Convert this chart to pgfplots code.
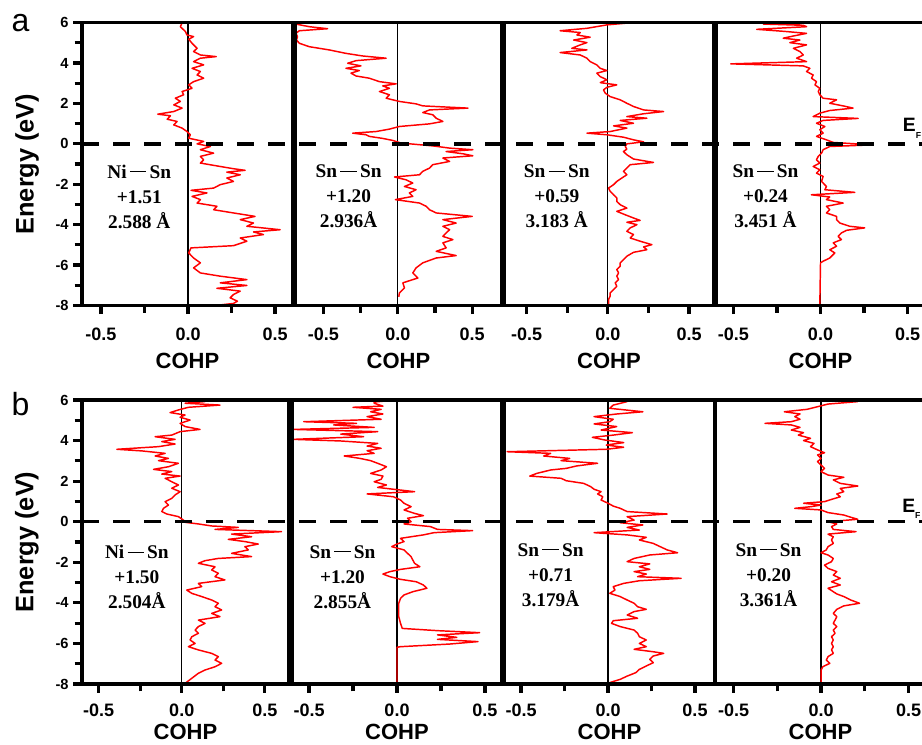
\documentclass[border=0pt]{standalone}
\usepackage{pgfplots}
\pgfplotsset{compat=1.18}
\usepackage{fontspec}
\setmainfont{Liberation Sans}
\newfontfamily\tnr{Liberation Serif}
\newcommand{\bd}{\,\rule[0.3em]{0.85em}{0.06em}\,}
\newcommand{\anno}{\tnr\bfseries\fontsize{14.5}{18.75}\selectfont}
\pgfplotsset{
  cohp/.style={
    scale only axis, anchor=south west, clip=false, axis on top,
    ymin=-8, ymax=6,
    axis line style={line width=2.7pt},
    /pgf/number format/assume math mode=true,
    xtick={-0.5,0,0.5}, minor xtick={-0.25,0.25},
    xtick pos=left,
    tick align=outside,
    major tick length=6.5pt, minor tick length=5.5pt,
    every tick/.style={line width=2.4pt, black},
    x tick label style={/pgf/number format/fixed,/pgf/number format/fixed zerofill,/pgf/number format/precision=1,
      font=\bfseries\fontsize{13.5}{14}\selectfont, yshift=-6.5pt},
    xlabel={COHP},
    xlabel style={font=\bfseries\fontsize{16.5}{18}\selectfont, at={(axis description cs:0.5,0)}, anchor=center, yshift=-41.5pt},
  },
  rowb/.style={xlabel style={yshift=5.5pt}, x tick label style={yshift=1.5pt}},
  first/.style={
    ytick={-8,-6,...,6}, minor ytick={-7,-5,...,5}, ytick pos=left,
    y tick label style={font=\bfseries\fontsize{11}{12}\selectfont},
    ylabel={Energy (eV)},
    ylabel style={font=\bfseries\fontsize{19}{20}\selectfont, at={(axis description cs:#1,0.5)}, anchor=center},
  },
  other/.style={ytick=\empty},
  curve/.style={red, line width=1.1pt, line join=round},
}
\begin{document}
\begin{tikzpicture}
% ---------------- row a ----------------
\begin{axis}[cohp, first=-0.26, at={(61.5pt,328.9pt)}, width=158.25pt, height=212.1pt, xmin=-0.609, xmax=0.603]
\draw[line width=0.9pt] (axis cs:0,-8) -- (axis cs:0,6);
\addplot[curve] coordinates {(-0.034,6.00) (-0.044,5.80) (-0.015,5.56) (-0.006,5.39) (0.032,5.31) (0.004,5.18) (0.023,4.98) (0.052,4.73) (0.032,4.57) (0.071,4.40) (0.162,4.32) (0.071,4.24) (0.032,4.07) (0.090,3.91) (0.023,3.74) (0.071,3.58) (0.052,3.41) (0.090,3.25) (0.032,3.08) (0.004,2.92) (0.023,2.75) (-0.034,2.59) (-0.025,2.43) (-0.073,2.26) (-0.044,2.10) (-0.082,1.93) (-0.034,1.77) (-0.082,1.60) (-0.174,1.47) (-0.101,1.39) (-0.120,1.22) (-0.063,1.11) (-0.082,0.94) (-0.034,0.78) (-0.006,0.61) (0.013,0.45) (0.004,0.28) (0.090,0.12) (0.052,0.00) (0.128,-0.13) (0.071,-0.29) (0.147,-0.46) (0.071,-0.62) (0.090,-0.79) (0.071,-0.95) (0.185,-1.12) (0.261,-1.23) (0.328,-1.31) (0.223,-1.40) (0.300,-1.53) (0.223,-1.69) (0.261,-1.86) (0.185,-2.02) (0.147,-2.19) (0.017,-2.30) (0.109,-2.43) (0.023,-2.60) (0.071,-2.76) (0.052,-2.93) (0.166,-3.09) (0.147,-3.26) (0.261,-3.42) (0.385,-3.59) (0.300,-3.75) (0.376,-3.92) (0.338,-4.08) (0.529,-4.25) (0.376,-4.36) (0.433,-4.49) (0.300,-4.66) (0.338,-4.82) (0.261,-5.04) (0.017,-5.15) (0.004,-5.40) (0.032,-5.65) (0.071,-5.89) (0.032,-6.14) (0.071,-6.39) (0.185,-6.55) (0.338,-6.72) (0.185,-6.88) (0.338,-7.01) (0.166,-7.15) (0.300,-7.29) (0.261,-7.46) (0.242,-7.62) (0.284,-7.79) (0.261,-7.90) (0.156,-8.00)};
\node[font=\anno, align=center] at (axis cs:-0.28,-2.61) {Ni\bd Sn\\+1.51\\2.588 Å};
\coordinate (EA) at (axis cs:-0.609,0);
\end{axis}
\begin{axis}[cohp, other, at={(221.25pt,328.9pt)}, width=155.25pt, height=212.1pt, xmin=-0.69, xmax=0.70]
\draw[line width=0.9pt] (axis cs:0,-8) -- (axis cs:0,6);
\addplot[curve] coordinates {(-0.684,5.93) (-0.594,5.80) (-0.471,5.70) (-0.661,5.60) (-0.684,5.47) (-0.673,5.31) (-0.680,5.14) (-0.661,4.98) (-0.594,4.81) (-0.460,4.65) (-0.348,4.48) (-0.235,4.35) (-0.078,4.24) (-0.280,4.12) (-0.336,3.99) (-0.247,3.86) (-0.348,3.74) (-0.258,3.63) (-0.314,3.50) (-0.280,3.36) (-0.191,3.25) (-0.123,3.08) (-0.011,2.97) (-0.101,2.87) (-0.056,2.75) (-0.123,2.59) (-0.056,2.43) (-0.078,2.26) (0.011,2.10) (0.123,1.98) (0.168,1.88) (0.471,1.77) (0.213,1.68) (0.168,1.55) (0.235,1.44) (0.258,1.27) (0.303,1.11) (0.213,0.99) (0.011,0.86) (-0.056,0.73) (-0.146,0.61) (-0.303,0.53) (-0.213,0.45) (-0.191,0.37) (-0.101,0.27) (-0.034,0.17) (0.022,0.04) (0.235,-0.10) (0.348,-0.21) (0.504,-0.29) (0.325,-0.38) (0.437,-0.49) (0.504,-0.59) (0.303,-0.70) (0.348,-0.87) (0.235,-1.03) (0.213,-1.20) (0.168,-1.36) (0.146,-1.53) (-0.022,-1.64) (0.056,-1.78) (0.101,-1.94) (0.045,-2.11) (0.123,-2.27) (0.078,-2.43) (0.101,-2.60) (-0.016,-2.76) (0.146,-2.93) (0.191,-3.09) (0.213,-3.26) (0.258,-3.42) (0.500,-3.59) (0.303,-3.75) (0.392,-3.92) (0.303,-4.08) (0.348,-4.25) (0.325,-4.41) (0.303,-4.58) (0.370,-4.74) (0.303,-4.90) (0.325,-5.15) (0.258,-5.32) (0.392,-5.53) (0.258,-5.65) (0.168,-5.89) (0.123,-6.14) (0.101,-6.39) (0.135,-6.64) (0.034,-6.88) (0.045,-7.13) (0.011,-7.38) (0.007,-7.57)};
\node[font=\anno, align=center] at (axis cs:-0.33,-2.61) {Sn\bd Sn\\+1.20\\2.936Å};
\end{axis}
\begin{axis}[cohp, other, at={(378pt,328.9pt)}, width=157.5pt, height=212.1pt, xmin=-0.64, xmax=0.654]
\draw[line width=0.9pt] (axis cs:0,-8) -- (axis cs:0,6);
\addplot[curve] coordinates {(0.107,5.97) (-0.006,5.89) (-0.129,5.72) (-0.294,5.60) (-0.170,5.51) (-0.191,5.39) (-0.109,5.28) (-0.211,5.14) (-0.129,5.01) (-0.170,4.90) (-0.222,4.73) (-0.129,4.65) (-0.294,4.52) (-0.170,4.40) (-0.129,4.24) (-0.109,4.07) (-0.068,3.91) (-0.047,3.74) (-0.006,3.63) (-0.068,3.50) (-0.047,3.33) (-0.006,3.17) (-0.047,3.03) (0.055,2.92) (-0.006,2.80) (-0.027,2.67) (-0.016,2.51) (0.014,2.34) (0.076,2.18) (0.117,2.01) (0.158,1.85) (0.220,1.68) (0.343,1.60) (0.220,1.49) (0.117,1.35) (0.240,1.27) (0.076,1.16) (0.158,1.02) (0.035,0.89) (0.117,0.78) (0.014,0.61) (-0.129,0.53) (-0.006,0.45) (0.096,0.33) (0.158,0.20) (0.220,0.10) (0.117,0.00) (0.107,-0.13) (0.117,-0.26) (0.096,-0.38) (0.117,-0.54) (0.158,-0.75) (0.281,-0.92) (0.138,-1.03) (0.117,-1.20) (0.096,-1.36) (0.117,-1.53) (0.086,-1.69) (0.055,-1.86) (0.035,-2.02) (0.004,-2.19) (0.014,-2.35) (0.035,-2.52) (0.055,-2.68) (0.055,-2.85) (0.076,-3.01) (0.117,-3.18) (0.055,-3.34) (0.107,-3.51) (0.158,-3.67) (0.199,-3.79) (0.117,-3.88) (0.179,-4.00) (0.138,-4.16) (0.117,-4.33) (0.158,-4.49) (0.138,-4.66) (0.199,-4.82) (0.271,-4.99) (0.220,-5.10) (0.240,-5.24) (0.158,-5.37) (0.117,-5.56) (0.096,-5.73) (0.076,-5.89) (0.076,-6.06) (0.055,-6.22) (0.066,-6.39) (0.055,-6.55) (0.066,-6.72) (0.045,-6.88) (0.055,-7.05) (0.035,-7.21) (0.014,-7.38) (0.014,-7.54) (0.004,-7.71) (0.004,-7.95)};
\node[font=\anno, align=center] at (axis cs:-0.315,-2.61) {Sn\bd Sn\\+0.59\\3.183 Å};
\end{axis}
\begin{axis}[cohp, other, at={(537pt,328.9pt)}, width=156.75pt, height=212.1pt, xmin=-0.60, xmax=0.60]
\draw[line width=0.9pt] (axis cs:0,-8) -- (axis cs:0,6);
\addplot[curve] coordinates {(-0.118,5.97) (-0.328,5.93) (-0.099,5.87) (-0.080,5.80) (-0.366,5.67) (-0.195,5.56) (-0.080,5.47) (-0.156,5.34) (-0.214,5.23) (-0.118,5.14) (-0.176,5.01) (-0.080,4.90) (-0.156,4.73) (-0.118,4.57) (-0.099,4.40) (-0.137,4.24) (-0.080,4.07) (-0.515,3.96) (-0.099,3.86) (-0.061,3.74) (-0.080,3.58) (-0.042,3.41) (-0.052,3.25) (-0.023,3.08) (-0.032,2.92) (-0.004,2.75) (-0.013,2.59) (-0.004,2.43) (0.015,2.26) (0.092,2.18) (0.053,2.01) (0.130,1.88) (0.187,1.77) (0.053,1.65) (-0.004,1.52) (-0.042,1.35) (0.216,1.26) (0.015,1.16) (-0.023,1.02) (0.025,0.86) (-0.004,0.70) (0.015,0.53) (-0.023,0.37) (0.034,0.20) (0.073,0.07) (0.301,-0.05) (0.053,-0.13) (0.015,-0.29) (0.006,-0.46) (-0.013,-0.62) (-0.023,-0.79) (-0.004,-0.95) (-0.042,-1.12) (-0.004,-1.28) (-0.023,-1.45) (0.015,-1.61) (0.006,-1.86) (0.034,-2.11) (0.025,-2.27) (0.197,-2.40) (-0.052,-2.52) (0.053,-2.63) (0.034,-2.76) (0.130,-2.93) (0.034,-3.09) (0.053,-3.26) (0.034,-3.42) (0.092,-3.59) (0.092,-3.75) (0.111,-3.92) (0.168,-4.08) (0.254,-4.16) (0.149,-4.28) (0.120,-4.41) (0.101,-4.58) (0.120,-4.74) (0.073,-4.90) (0.092,-5.07) (0.053,-5.24) (0.082,-5.40) (0.053,-5.65) (0.015,-5.81) (0.000,-5.89) (-0.004,-8.00)};
\node[font=\anno, align=center] at (axis cs:-0.316,-2.61) {Sn\bd Sn\\+0.24\\3.451 Å};
\end{axis}
% ---------------- row b ----------------
\begin{axis}[cohp, rowb, first=-0.266, at={(61.5pt,45pt)}, width=155.25pt, height=213pt, xmin=-0.60, xmax=0.645]
\draw[line width=0.9pt] (axis cs:0,-8) -- (axis cs:0,6);
\addplot[curve] coordinates {(0.10,5.97) (0.14,5.92) (0.02,5.84) (0.23,5.75) (0.04,5.64) (-0.02,5.51) (-0.07,5.38) (0.02,5.26) (-0.01,5.15) (0.05,5.01) (-0.01,4.85) (0.02,4.69) (0.11,4.55) (-0.01,4.44) (-0.06,4.27) (-0.16,4.19) (-0.04,4.06) (-0.12,3.95) (-0.04,3.83) (-0.14,3.70) (-0.39,3.57) (-0.24,3.49) (-0.10,3.37) (-0.16,3.24) (-0.08,3.12) (-0.14,3.01) (-0.02,2.88) (-0.08,2.71) (-0.17,2.58) (-0.06,2.47) (-0.12,2.35) (-0.01,2.25) (-0.10,2.14) (-0.06,1.97) (-0.02,1.81) (-0.06,1.65) (-0.01,1.48) (-0.04,1.32) (-0.06,1.15) (-0.10,0.99) (-0.08,0.82) (-0.11,0.66) (-0.12,0.50) (-0.09,0.38) (-0.02,0.25) (0.01,0.08) (0.02,-0.03) (0.10,-0.11) (0.18,-0.21) (0.34,-0.28) (0.20,-0.38) (0.60,-0.49) (0.30,-0.61) (0.42,-0.74) (0.28,-0.87) (0.38,-0.98) (0.46,-1.10) (0.38,-1.23) (0.40,-1.39) (0.30,-1.56) (0.42,-1.72) (0.22,-1.81) (0.14,-1.92) (0.10,-2.05) (0.20,-2.22) (0.18,-2.38) (0.22,-2.54) (0.20,-2.71) (0.26,-2.87) (0.10,-3.04) (0.12,-3.20) (0.03,-3.37) (0.06,-3.53) (0.12,-3.69) (0.18,-3.86) (0.22,-4.02) (0.20,-4.19) (0.24,-4.35) (0.18,-4.52) (0.23,-4.68) (0.10,-4.85) (0.14,-5.01) (0.10,-5.17) (0.08,-5.34) (0.10,-5.50) (0.06,-5.67) (0.05,-5.83) (0.08,-6.00) (0.04,-6.16) (0.10,-6.32) (0.18,-6.49) (0.22,-6.65) (0.20,-6.82) (0.24,-6.98) (0.20,-7.15) (0.14,-7.31) (0.10,-7.47) (0.06,-7.72) (0.02,-7.97)};
\node[font=\anno, align=center] at (axis cs:-0.27,-2.72) {Ni\bd Sn\\+1.50\\2.504Å};
\coordinate (EB) at (axis cs:-0.60,0);
\end{axis}
\begin{axis}[cohp, rowb, other, at={(219pt,45pt)}, width=157.5pt, height=213pt, xmin=-0.597, xmax=0.597]
\draw[line width=0.9pt] (axis cs:0,-8) -- (axis cs:0,6);
\addplot[curve] coordinates {(-0.04,5.97) (-0.13,5.90) (-0.13,5.84) (-0.08,5.70) (-0.25,5.64) (-0.09,5.54) (-0.15,5.42) (-0.08,5.31) (-0.17,5.18) (-0.09,5.05) (-0.53,4.93) (-0.23,4.85) (-0.36,4.77) (-0.13,4.65) (-0.59,4.55) (-0.11,4.44) (-0.32,4.32) (-0.19,4.19) (-0.59,4.06) (-0.32,3.98) (-0.11,3.86) (-0.17,3.73) (-0.09,3.62) (-0.17,3.50) (-0.13,3.37) (-0.30,3.24) (-0.21,3.12) (-0.15,3.01) (-0.11,2.88) (-0.06,2.71) (-0.09,2.55) (-0.15,2.38) (-0.08,2.25) (-0.09,2.09) (-0.13,1.97) (-0.06,1.81) (-0.11,1.69) (0.02,1.56) (0.10,1.48) (-0.17,1.37) (-0.02,1.23) (0.02,1.07) (0.04,0.91) (0.08,0.74) (0.04,0.58) (0.10,0.41) (0.15,0.30) (0.06,0.17) (0.08,0.00) (0.04,-0.11) (0.19,-0.24) (0.23,-0.38) (0.43,-0.44) (0.21,-0.54) (0.15,-0.65) (0.02,-0.82) (0.04,-0.98) (0.00,-1.10) (-0.03,-1.23) (0.04,-1.39) (0.06,-1.56) (0.08,-1.72) (0.09,-1.89) (0.10,-2.05) (0.13,-2.22) (0.02,-2.35) (-0.04,-2.46) (-0.08,-2.58) (-0.04,-2.71) (0.02,-2.84) (0.11,-2.96) (0.15,-3.12) (0.17,-3.28) (0.09,-3.45) (0.04,-3.61) (0.02,-3.78) (0.01,-4.02) (0.01,-4.35) (0.01,-4.68) (0.02,-5.01) (0.03,-5.26) (0.23,-5.37) (0.47,-5.47) (0.23,-5.58) (0.34,-5.70) (0.23,-5.80) (0.46,-5.91) (0.30,-6.03) (0.02,-6.16) (0.00,-6.19) (0.00,-8.00)};
\node[font=\anno, align=center] at (axis cs:-0.31,-2.72) {Sn\bd Sn\\+1.20\\2.855Å};
\end{axis}
\begin{axis}[cohp, rowb, other, at={(378pt,45pt)}, width=158.25pt, height=213pt, xmin=-0.598, xmax=0.615]
\draw[line width=0.9pt] (axis cs:0,-8) -- (axis cs:0,6);
\addplot[curve] coordinates {(0.11,5.92) (0.03,5.75) (0.01,5.59) (0.20,5.42) (0.05,5.31) (-0.08,5.18) (0.03,5.05) (0.01,4.93) (-0.08,4.82) (0.05,4.69) (-0.04,4.52) (0.14,4.39) (0.03,4.27) (-0.09,4.16) (-0.02,4.03) (0.09,3.90) (-0.01,3.78) (0.09,3.67) (-0.01,3.57) (-0.58,3.45) (-0.33,3.37) (-0.37,3.24) (-0.22,3.12) (-0.27,3.01) (-0.06,2.88) (-0.18,2.75) (-0.24,2.63) (-0.33,2.55) (-0.41,2.38) (-0.45,2.25) (-0.27,2.14) (-0.24,2.02) (-0.14,1.89) (-0.10,1.73) (-0.08,1.60) (-0.04,1.48) (-0.06,1.37) (-0.03,1.23) (-0.04,1.07) (0.00,0.91) (0.03,0.77) (0.07,0.66) (0.11,0.50) (0.34,0.38) (0.11,0.25) (0.15,0.08) (0.07,-0.05) (0.20,-0.16) (0.11,-0.28) (0.18,-0.41) (-0.08,-0.54) (0.11,-0.65) (0.22,-0.77) (0.18,-0.90) (0.26,-1.07) (0.30,-1.23) (0.34,-1.39) (0.40,-1.53) (0.24,-1.64) (0.15,-1.81) (0.11,-1.97) (0.24,-2.08) (0.18,-2.22) (0.24,-2.35) (0.15,-2.46) (0.22,-2.58) (0.17,-2.71) (0.42,-2.79) (0.18,-2.91) (0.09,-3.04) (0.03,-3.20) (0.04,-3.37) (0.01,-3.53) (0.07,-3.69) (0.11,-3.86) (0.15,-4.02) (0.17,-4.19) (0.22,-4.32) (0.15,-4.43) (0.11,-4.60) (0.17,-4.76) (0.03,-4.88) (0.02,-5.01) (0.07,-5.17) (0.15,-5.34) (0.17,-5.50) (0.18,-5.67) (0.22,-5.83) (0.18,-6.00) (0.22,-6.16) (0.15,-6.29) (0.26,-6.41) (0.32,-6.49) (0.26,-6.62) (0.24,-6.78) (0.26,-6.95) (0.22,-7.11) (0.18,-7.28) (0.16,-7.44) (0.11,-7.61) (0.07,-7.77) (0.01,-7.93)};
\node[font=\anno, align=center] at (axis cs:-0.33,-2.62) {Sn\bd Sn\\+0.71\\3.179Å};
\end{axis}
\begin{axis}[cohp, rowb, other, at={(536.25pt,45pt)}, width=158.25pt, height=213pt, xmin=-0.606, xmax=0.60]
\draw[line width=0.9pt] (axis cs:0,-8) -- (axis cs:0,6);
\addplot[curve] coordinates {(0.21,5.92) (0.04,5.80) (-0.02,5.67) (-0.08,5.54) (-0.21,5.42) (-0.12,5.31) (-0.15,5.18) (-0.12,5.05) (-0.17,4.93) (-0.32,4.85) (-0.17,4.77) (-0.12,4.65) (-0.17,4.52) (-0.10,4.39) (-0.13,4.27) (-0.06,4.11) (-0.10,4.00) (-0.04,3.86) (-0.06,3.70) (-0.02,3.54) (0.02,3.40) (-0.02,3.29) (0.00,3.12) (-0.02,2.96) (0.00,2.79) (0.02,2.63) (0.00,2.47) (0.04,2.30) (0.13,2.19) (0.07,2.06) (0.11,1.89) (0.21,1.76) (0.11,1.64) (0.13,1.48) (0.09,1.37) (0.11,1.23) (0.06,1.10) (0.02,0.99) (-0.10,0.91) (0.00,0.82) (-0.06,0.74) (-0.15,0.66) (0.00,0.58) (0.04,0.45) (0.13,0.33) (0.17,0.22) (0.21,0.12) (0.04,0.00) (0.09,-0.11) (0.06,-0.24) (0.07,-0.38) (0.20,-0.49) (0.04,-0.61) (0.07,-0.74) (0.06,-0.90) (0.07,-1.07) (0.04,-1.23) (0.03,-1.39) (0.00,-1.53) (0.04,-1.64) (0.07,-1.81) (0.06,-1.97) (0.02,-2.14) (0.04,-2.30) (0.09,-2.46) (0.07,-2.63) (0.11,-2.79) (0.06,-2.96) (0.11,-3.12) (0.04,-3.28) (0.07,-3.45) (0.09,-3.56) (0.13,-3.69) (0.17,-3.86) (0.22,-4.02) (0.13,-4.15) (0.09,-4.32) (0.07,-4.52) (0.09,-4.68) (0.08,-4.85) (0.07,-5.01) (0.09,-5.17) (0.07,-5.34) (0.08,-5.50) (0.06,-5.67) (0.07,-5.83) (0.06,-6.00) (0.07,-6.16) (0.06,-6.32) (0.07,-6.49) (0.04,-6.65) (0.03,-6.82) (0.05,-6.98) (0.01,-7.15) (0.00,-7.31) (0.00,-8.00)};
\node[font=\anno, align=center] at (axis cs:-0.30,-2.62) {Sn\bd Sn\\+0.20\\3.361Å};
\end{axis}
% Fermi level lines
\draw[line width=2.6pt, dash pattern=on 12.75pt off 10.5pt] (EA) -- ++(640pt,0);
\draw[line width=2.6pt, dash pattern=on 12.75pt off 10.5pt] (EB) -- ++(640pt,0);
\node[anchor=base west, inner sep=0pt, font=\bfseries\fontsize{14.5}{15}\selectfont] at (677pt,459pt) {E\raisebox{-0.6ex}{\fontsize{6.5}{7}\selectfont F}};
\node[anchor=base west, inner sep=0pt, font=\bfseries\fontsize{14.5}{15}\selectfont] at (676.5pt,174pt) {E\raisebox{-0.6ex}{\fontsize{6.5}{7}\selectfont F}};
\node[anchor=base west, inner sep=0pt, font=\fontsize{24}{26}\selectfont] at (8.5pt,534pt) {a};
\node[anchor=base west, inner sep=0pt, font=\fontsize{24}{26}\selectfont] at (8.5pt,246.75pt) {b};
\pgfresetboundingbox
\path[use as bounding box] (0,0) rectangle (691.5pt,558pt);
\end{tikzpicture}
\end{document}
